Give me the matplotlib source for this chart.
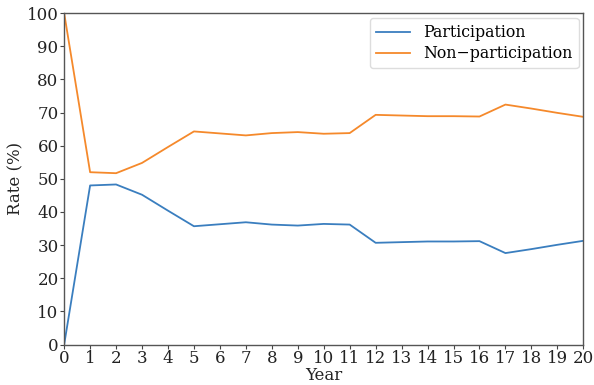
import matplotlib.pyplot as plt

# participation rate by year (%), non-participation is the complement
years = list(range(0, 21))
participation = [0, 48.0, 48.3, 45.2, 40.4, 35.7, 36.3, 36.9, 36.2, 35.9, 36.4,
                 36.2, 30.7, 30.9, 31.1, 31.1, 31.2, 27.6, 28.8, 30.1, 31.3]
non_participation = [100 - p for p in participation]

plt.rcParams['font.family'] = ['DejaVu Serif']
plt.rcParams['font.size'] = 12

fig, ax = plt.subplots(figsize=(5.94, 3.85), dpi=100)
fig.subplots_adjust(left=0.108, right=0.982, top=0.966, bottom=0.105)

ax.plot(years, participation, color='#3a7ebf', lw=1.3, label='Participation')
ax.plot(years, non_participation, color='#f5892b', lw=1.3, label='Non\u2212participation')

ax.set_xlim(0, 20)
ax.set_ylim(0, 100)
ax.set_xticks(years)
ax.set_yticks(range(0, 101, 10))
ax.tick_params(length=3, width=0.8, color='#444444', pad=1, labelcolor='#222222')
for s in ax.spines.values():
    s.set_color('#555555')
    s.set_linewidth(1.0)

ax.set_xlabel('Year', labelpad=0, color='#222222')
ax.set_ylabel('Rate (%)', labelpad=2, color='#222222')
ax.legend(loc='upper right', fontsize=11.3, handlelength=2.2, borderaxespad=0.3,
          labelspacing=0.25, edgecolor='#dddddd', fancybox=True, framealpha=1)

plt.savefig('out.png')
